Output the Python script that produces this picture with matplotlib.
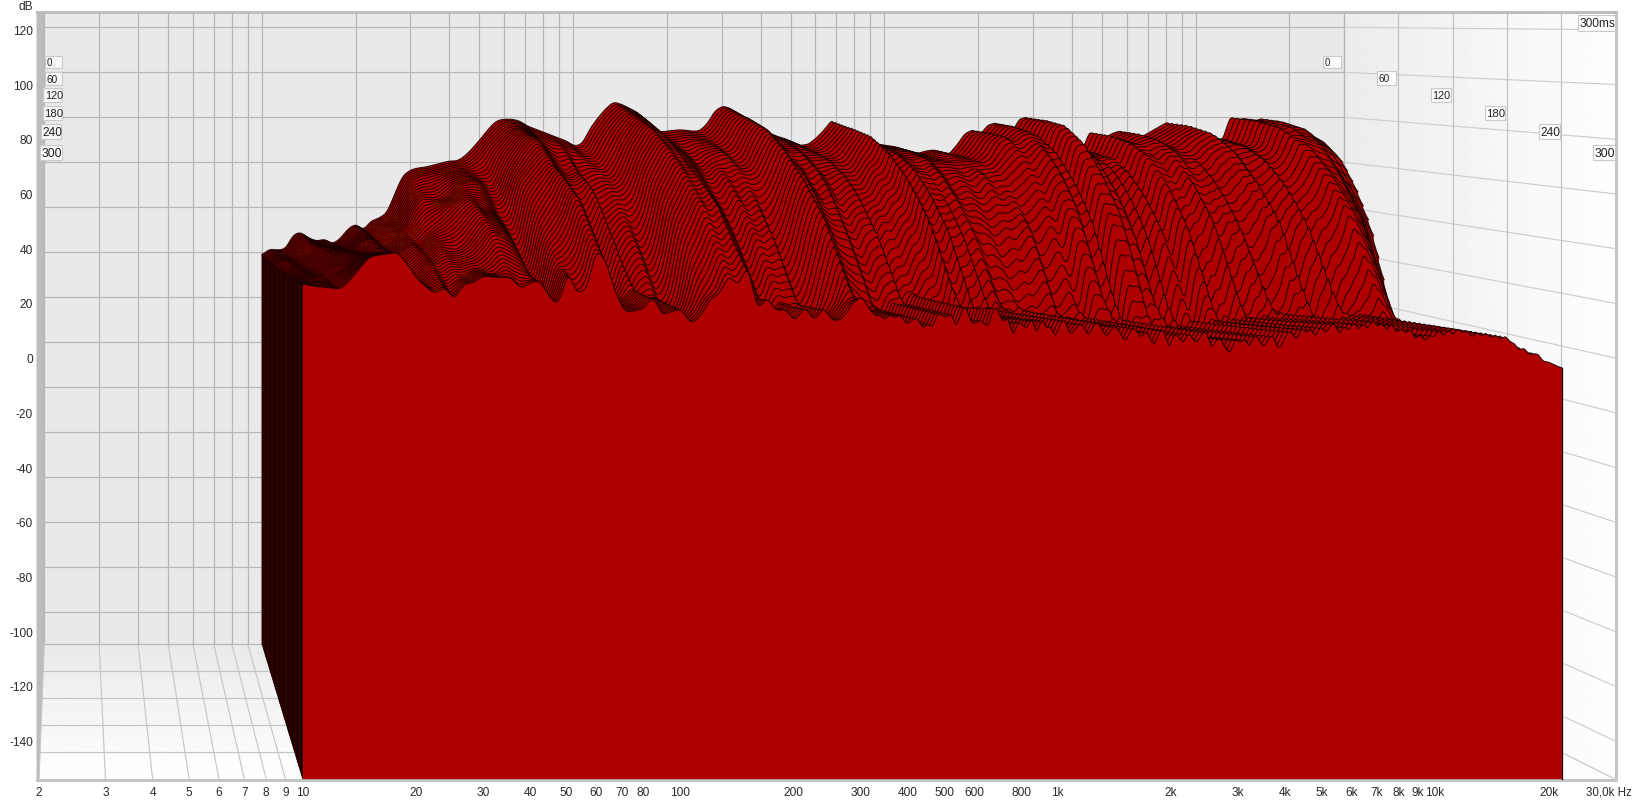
import numpy as np
import matplotlib
matplotlib.use("Agg")
import matplotlib.pyplot as plt
from matplotlib.patches import Polygon, Rectangle

plt.rcParams['font.family'] = ['Liberation Sans', 'DejaVu Sans']

# ---------- values ----------
# 1/12-octave frequency knots from 10 Hz to about 22 kHz
FREQ = [10, 10.6, 11.2, 11.9, 12.6, 13.3, 14.1, 15, 15.9, 16.8, 17.8, 18.9,
        20, 21.2, 22.4, 23.8, 25.2, 26.7, 28.3, 30, 31.7, 33.6, 35.6, 37.8,
        40, 42.4, 44.9, 47.6, 50.4, 53.4, 56.6, 59.9, 63.5, 67.3, 71.3, 75.5,
        80, 84.8, 89.8, 95.1, 100.8, 106.8, 113.1, 119.9, 127, 134.5, 142.5, 151,
        160, 169.5, 179.6, 190.3, 201.6, 213.6, 226.3, 239.7, 254, 269.1, 285.1, 302,
        320, 339, 359.2, 380.5, 403.2, 427.1, 452.5, 479.5, 508, 538.2, 570.2, 604.1,
        640, 678.1, 718.4, 761.1, 806.3, 854.3, 905.1, 958.9, 1016, 1076, 1140, 1208,
        1280, 1356, 1437, 1522, 1613, 1709, 1810, 1918, 2032, 2153, 2281, 2416,
        2560, 2712, 2874, 3044, 3225, 3417, 3620, 3836, 4064, 4305, 4561, 4833,
        5120, 5424, 5747, 6089, 6451, 6834, 7241, 7671, 8127, 8611, 9123, 9665,
        10240, 10850, 11490, 12180, 12900, 13670, 14480, 15340, 16250, 17220, 18250, 19330,
        20480, 21700]

# level of the 0 ms slice, dB
FIRST_SLICE = [18.8, 21.5, 21, 21.5, 27.7, 29, 26.4, 25, 25.9, 23.7, 25.9, 30.4,
               32.6, 29.9, 33.9, 35.2, 37.5, 45.9, 53.9, 56.6, 57.5, 57.9, 58.8, 59.7,
               60.6, 60.6, 62.8, 66.4, 70.4, 74.8, 78.4, 79.2, 79.2, 78.4, 76.1, 74.8,
               73.5, 72.1, 70.8, 69.5, 67.2, 68.1, 74.8, 79.7, 83.7, 86.8, 85.9, 84.1,
               82.4, 79.2, 75.2, 73.5, 73.9, 74.4, 74.4, 73.9, 73.9, 77, 82.8, 85,
               84, 81, 78, 75, 73, 73, 71.5, 70.5, 69, 67.5, 68.1, 70.8,
               74.4, 78.8, 74, 72, 71, 70, 69, 68, 67.5, 67, 66, 65,
               64, 65, 65.5, 64.6, 63.7, 67.7, 72.6, 74.4, 72.5, 76.6, 77.5, 75,
               73, 79.2, 80.1, 76, 73, 70, 68, 66.5, 65.5, 65, 73.5, 72,
               71, 73, 74, 71, 70, 72, 74, 76, 77.9, 74, 72, 73,
               71, 71.5, 69, 70, 80.1, 79, 79.5, 78, 79.5, 78, 76, 75,
               73, 70]

# level of the 300 ms slice, dB
LAST_SLICE = [27.1, 26.3, 26, 25.6, 25.2, 28.2, 32.5, 36.9, 37.7, 38, 38.8, 34.4,
              29.3, 26, 23.4, 26, 21.2, 27.1, 27.4, 30, 29.6, 29.3, 29.6, 25.2,
              27.4, 28.5, 22.7, 19, 31.8, 23.4, 25.2, 39.9, 35.5, 24.1, 16.8, 17.2,
              17.9, 22.7, 15.4, 17.2, 17.9, 12.4, 15, 21.6, 23.4, 30.3, 26.3, 34.4,
              17.2, 22.3, 17.2, 17.9, 13.2, 19, 13.5, 18.6, 13.5, 14.3, 19.7, 22.7,
              17.2, 15, 15.7, 14.3, 15, 12.4, 12.1, 14.6, 16.5, 13.5, 17.6, 13.2,
              11.3, 17.6, 15, 11.3, 11.3, 13.5, 12.1, 11, 11, 11.3, 10.6, 10.6,
              11.3, 11.7, 9.1, 8.8, 9.5, 8.4, 7.3, 9.1, 6.9, 6.9, 8, 8.4,
              6.9, 5.1, 4.8, 6.2, 6.6, 6.9, 6.2, 6.9, 7.7, 9.1, 9.9, 10.2,
              10.6, 11, 11.3, 11.7, 12.1, 12.4, 12.1, 11.3, 10.2, 9.1, 8, 7.7,
              8.8, 9.9, 10.2, 9.5, 8.8, 8.4, 7.7, 7.3, 4.4, 2.9, 1.5, -0.4,
              -2.2, -3.7]

# fine teeth and notches of the settled slices between 320 Hz and 22 kHz,
# dB at half-knot steps, estimated from the front edge
COMB_DB = [0, -1, 1, -2, 1, -1, 2, -1, -3, 1, 2, -2, 1, -3, 2, 0,
           -2, 2, -3, 1, 2, -2, -1, 2, 1, -3, 2, 0, -2, 2, -4, 2,
           1, -2, 2, -5, 3, -1, 1, -4, 2, 3, -3, -1, 2, 1, -3, 1,
           2, -2, -4, 1, 2, -1, -3, 2, 1, -2, 2, -1, -3, 2, 1, -5,
           2, 1, -2, 2, -1, -3, 1, 2, -4, 1, 2, -2, -3, 2, -1, 1,
           -3, 2, 0, -3, 1, 2, -4, -2, 2, 1, -3, 2, -1, 1, -3, 2,
           -2, 1, 2, -3, 1, -2, 2, -2, 1, -2, 2, -1, 1, -2, 2, -2,
           1, -1, 2, -2, 1, -2, 1, -1, 2, -2, 1, -2, 1, -1, 1, -2,
           1, -1, 1, -1, 1, -1, 1, 0, 1, -1, 1, -1, 0, 1, -1, 0,
           0, 0, 0]

# time at which each frequency has fallen to its floor, ms
DECAY_MS = [300, 300, 300, 300, 300, 300, 300, 300, 300, 300, 300, 300,
            300, 300, 300, 300, 290, 270, 260, 250, 255, 275, 295, 300,
            285, 265, 240, 225, 260, 295, 300, 300, 300, 285, 245, 225,
            210, 240, 200, 220, 225, 220, 235, 280, 290, 300, 300, 300,
            260, 240, 250, 240, 225, 240, 250, 240, 225, 240, 260, 285,
            270, 240, 230, 220, 220, 210, 200, 200, 210, 200, 190, 215,
            225, 235, 215, 205, 190, 200, 185, 200, 180, 190, 170, 180,
            165, 175, 170, 185, 175, 165, 180, 165, 185, 190, 170, 175,
            160, 180, 185, 170, 175, 155, 165, 150, 160, 155, 175, 165,
            170, 180, 165, 175, 185, 165, 170, 185, 190, 170, 160, 175,
            180, 160, 170, 180, 190, 185, 178, 168, 155, 145, 135, 125,
            118, 110]

# level just after the decay, dB below the last slice
FLOOR_DROP = [0] * 48 + [2] * 24 + [4] * 24 + [6] * 24 + [3] * 14

# how far each frequency has come down on its way to the floor
DECAY_PHASE = [0, 0.15, 0.3, 0.45, 0.6, 0.75, 0.9, 1]
LEFT_HIGH = [1, 0.995, 0.97, 0.89, 0.74, 0.54, 0.22, 0]
LEFT_LOW = [1, 0.9, 0.78, 0.64, 0.48, 0.3, 0.12, 0]

# estimated ripple of the early, middle and late part of the decay, dB
RIPPLE_EARLY = [0, 1, 1, 0, -1, 0, 1, 1, 0, 0, 1, 1,
                0, -1, -1, 1, 2, 2, 0, -3, -4, -2, 1, 2,
                2, 1, -2, -4, -2, 1, 3, 3, 2, 1, -1, -3,
                -4, -2, -3, -1, 1, 0, -2, -1, 1, 2, 1, 0,
                -2, -1, 1, 0, -2, -1, 1, 2, 0, -2, -1, 1,
                2, 0, -2, -1, 1, 1, -1, -2, 0, 1, -1, -2,
                1, 2, 0, -2, -1, 1, -1, -2, 0, 1, -1, 0,
                1, -1, -2, 0, 1, -1, 0, 2, 1, -1, 0, 1,
                -1, 1, 2, 0, -1, 1, -1, -2, 0, 1, -1, 0,
                1, -1, 0, 1, -1, -1, 1, 0, -1, 1, 0, -1,
                1, -1, 0, 1, 0, -1, 1, 0, -1, 1, 0, -1,
                0, 0]
RIPPLE_MID = [0, 0, 1, 0, 0, -1, 0, 1, 1, 0, -1, -1,
              -1, 0, 1, 2, 1, -2, -4, -3, 0, 2, 3, 1,
              -1, -3, -5, -2, 1, 3, 4, 2, 0, -3, -4, -1,
              1, 3, -2, -3, 1, 2, -2, 0, 2, 3, 1, -1,
              -3, 1, 2, -2, 0, 2, -3, 1, 3, -1, -2, 2,
              1, -3, 2, -1, -2, 2, 0, -3, 2, 1, -2, 2,
              -1, 3, -2, 1, -3, 2, 0, -2, 3, -1, -3, 2,
              1, -2, 3, -3, 1, 2, -3, 2, -1, 3, -2, 1,
              -3, 2, 3, -2, 1, -3, 2, -1, 3, -2, -1, 3,
              -2, 1, 3, -3, 1, -2, 3, 0, -3, 2, 1, -3,
              3, -1, -2, 3, -2, 1, -3, 2, 1, -2, 3, -2,
              1, 0]
RIPPLE_LATE = [0, 0, 1, 1, 0, -1, -1, 0, 1, 1, 0, -1,
               -2, -3, -1, 2, 3, 1, -3, -5, -3, 0, 3, 4,
               2, -1, -4, -6, -3, 1, 4, 5, 3, -1, -5, -4,
               -2, 2, -3, -1, 2, -2, -3, 1, 3, 4, 2, 3,
               -3, 0, 2, -1, -3, 1, -2, 2, -3, -1, 2, 3,
               0, -2, 1, -2, 1, -1, -3, 0, 2, -2, 2, -2,
               -2, 3, 1, -3, -1, 2, -1, -2, 1, -1, 2, 0,
               -2, 1, -2, 1, 2, -1, -2, 1, 2, -1, 1, 2,
               -2, 1, -1, 2, 0, -2, 1, -1, 2, -1, 1, -2,
               1, 2, -1, 1, -2, 0, 2, -1, 1, -2, 1, -1,
               2, -1, 1, -2, 1, 2, -1, 1, -1, 1, -1, 1,
               0, 0]

TIME_STEP_MS = 6
TIME_END_MS = 300
DB_GRID = [120, 100, 80, 60, 40, 20, 0, -20, -40, -60, -80, -100, -120, -140]
DB_LABELS = [str(v) for v in DB_GRID]
FREQ_GRID = [2, 3, 4, 5, 6, 7, 8, 9, 10, 20, 30, 40, 50, 60, 70, 80, 90, 100, 200, 300, 400,
             500, 600, 700, 800, 900, 1000, 2000, 3000, 4000, 5000, 6000, 7000, 8000, 9000,
             10000, 20000, 30000]
FREQ_TICKS = [2, 3, 4, 5, 6, 7, 8, 9, 10, 20, 30, 40, 50, 60, 70, 80, 100, 200, 300, 400, 500,
              600, 800, 1000, 2000, 3000, 4000, 5000, 6000, 7000, 8000, 9000, 10000, 20000]
FREQ_TICK_LABELS = ['2', '3', '4', '5', '6', '7', '8', '9', '10', '20', '30', '40', '50', '60',
                    '70', '80', '100', '200', '300', '400', '500', '600', '800', '1k', '2k',
                    '3k', '4k', '5k', '6k', '7k', '8k', '9k', '10k', '20k']
TIME_GRID = [0, 60, 120, 180, 240, 300]

# ---------- projection of (frequency, dB, time) onto the picture ----------
W, H = 1634, 803
DB_FLOOR = -154
BACK_X0, BACK_XD = 44.3, 311.3
FRONT_X0, FRONT_XD = 39.0, 377.4
BACK_Y0, BACK_YD = 298.3, 2.25
FRONT_Y0, FRONT_YD = 359.0, 2.735
TOP = 15


def px(f, t):
    u = np.asarray(t, float) / TIME_END_MS
    lf = np.log10(np.asarray(f, float) / 2)
    return (BACK_X0 + BACK_XD * lf) * (1 - u) + (FRONT_X0 + FRONT_XD * lf) * u


def py(db, t):
    u = np.asarray(t, float) / TIME_END_MS
    db = np.asarray(db, float)
    return (BACK_Y0 - BACK_YD * db) * (1 - u) + (FRONT_Y0 - FRONT_YD * db) * u


fig = plt.figure(figsize=(W / 100, H / 100), dpi=100, facecolor='white')
ax = fig.add_axes([0, 0, 1, 1])
ax.axis('off')

# ---------- walls ----------
XMAX = 30000
xb_l, xb_r = float(px(2, 0)), float(px(XMAX, 0))
xf_l, xf_r = float(px(2, 300)), float(px(XMAX, 300))
yb_f, yf_f = float(py(DB_FLOOR, 0)), float(py(DB_FLOOR, 300))

ax.add_patch(Rectangle((xb_l, TOP), xb_r - xb_l, yb_f - TOP, fc='#e9e9e9', ec='none', zorder=0))
side = Polygon([(xb_r, TOP), (xf_r, TOP), (xf_r, yf_f), (xb_r, yb_f)], fc='none', ec='none')
ax.add_patch(side)
im = ax.imshow(np.linspace(0.925, 0.995, 128).reshape(1, -1), cmap='gray', vmin=0, vmax=1,
               extent=[xb_r, xf_r, yf_f, TOP], aspect='auto', zorder=0.1)
im.set_clip_path(side)
floor_poly = Polygon([(xb_l, yb_f), (xb_r, yb_f), (xf_r, yf_f), (xf_l, yf_f)], fc='none', ec='none')
ax.add_patch(floor_poly)
im2 = ax.imshow(np.linspace(0.915, 1.0, 128).reshape(-1, 1), cmap='gray', vmin=0, vmax=1,
                extent=[xb_l - 10, xf_r, yf_f, yb_f], aspect='auto', zorder=0.1)
im2.set_clip_path(floor_poly)

# grey frame and sliver of the left wall and ceiling
ax.add_patch(Polygon([(36.5, 12), (xb_l, TOP), (xb_l, yb_f), (xf_l, yf_f), (36.5, yf_f)],
                     fc='#bcbcbc', ec='none', zorder=0.2))
ax.add_patch(Rectangle((36.5, 11.5), xf_r + 2.5 - 36.5, TOP - 11.5, fc='#bdbdbd', ec='none', zorder=0.2))
ax.add_patch(Rectangle((36.5, yf_f), xf_r + 2.5 - 36.5, 2.5, fc='#c4c4c4', ec='none', zorder=0.2))
ax.add_patch(Rectangle((xf_r, TOP), 2.5, yf_f - TOP, fc='#c4c4c4', ec='none', zorder=0.2))

# ---------- grid ----------
GC, GS = '#b5b5b5', '#cdcdcd'
LW = 0.85
for db in DB_GRID:
    y = float(py(db, 0))
    ax.plot([xb_l, xb_r], [y, y], color=GC, lw=LW, zorder=0.5)
    ax.plot([xb_r, xf_r], [y, float(py(db, 300))], color=GS, lw=LW, zorder=0.5)
for f in FREQ_GRID:
    x = float(px(f, 0))
    ax.plot([x, x], [TOP, yb_f], color=GC, lw=LW, zorder=0.5)
    ax.plot([x, float(px(f, 300))], [yb_f, yf_f], color='#c6c6c6', lw=LW, zorder=0.5)
for t in TIME_GRID[:-1]:
    y = float(py(DB_FLOOR, t))
    ax.plot([float(px(2, t)), float(px(XMAX, t))], [y, y], color=GC if t == 0 else '#c4c4c4', lw=LW, zorder=0.5)
    x = float(px(XMAX, t))
    ax.plot([x, x], [TOP, y], color=GC if t == 0 else '#c0c0c0', lw=LW, zorder=0.5)

# ---------- waterfall, back slice first ----------
first = np.array(FIRST_SLICE, float)
last = np.array(LAST_SLICE, float)
decay = np.array(DECAY_MS, float)
drop = np.array(FLOOR_DROP, float)
rip_e = np.array(RIPPLE_EARLY, float)
rip_m = np.array(RIPPLE_MID, float)
rip_l = np.array(RIPPLE_LATE, float)
knots = np.arange(len(FREQ))
fine_k = np.arange(0, len(FREQ) - 1 + 1e-6, 0.25)
fine_f = 10 ** np.interp(fine_k, knots, np.log10(FREQ))
kern_wide = np.array([1, 2, 3, 2, 1], float) / 9
kern_thin = np.array([0, 1, 2, 1, 0], float) / 4
wide_w = np.clip((70 - fine_k) / 20, 0, 1)
dome_w = np.interp(knots, [40, 90], [0.2, 1.0])
rip_scale = np.interp(knots, [60, 90], [1.0, 0.6])
comb_k = 60 + 0.5 * np.arange(len(COMB_DB))
comb = np.interp(fine_k, comb_k, COMB_DB, left=0, right=0)


def slice_db(t):
    phase = np.clip(t / decay, 0, 1)
    left = dome_w * np.interp(phase, DECAY_PHASE, LEFT_HIGH) + (1 - dome_w) * np.interp(phase, DECAY_PHASE, LEFT_LOW)
    floor = last - drop * np.clip((TIME_END_MS - t) / np.maximum(TIME_END_MS - decay, 1), 0, 1)
    vals = floor + (first - floor) * left
    vals = vals + rip_scale * (rip_e * np.interp(phase, [0.12, 0.32, 0.5], [0, 1, 0])
                               + rip_m * np.interp(phase, [0.32, 0.52, 0.72], [0, 1, 0])
                               + rip_l * np.interp(phase, [0.52, 0.76, 0.98], [0, 1, 0]))
    f = np.interp(fine_k, knots, vals) + comb * (1 - np.interp(fine_k, knots, left) ** 2)
    pad = np.r_[[f[0]] * 2, f, [f[-1]] * 2]
    return wide_w * np.convolve(pad, kern_wide, mode='valid') + (1 - wide_w) * np.convolve(pad, kern_thin, mode='valid')


times = np.arange(0, TIME_END_MS + 1, TIME_STEP_MS)
prev = None
for i, t in enumerate(times):
    db = slice_db(t)
    xs = px(fine_f, t)
    ys = py(db, t)
    yb = float(py(DB_FLOOR, t))
    z = 1 + i
    if prev is not None:
        ax.add_patch(Polygon([(prev[0], prev[1]), (xs[0], ys[0]), (xs[0], yb), (prev[0], prev[2])],
                             fc='#1c0000', ec='#0c0000', lw=0.3, zorder=z))
    ax.add_patch(Polygon(np.r_[np.c_[xs, ys], [[xs[-1], yb], [xs[0], yb]]], fc='#ae0000', ec='none', zorder=z))
    ax.plot(xs, ys, color='#140000', lw=0.72, alpha=0.9, zorder=z, solid_joinstyle='round')
    prev = (xs[0], ys[0], yb)
ax.plot([xs[-1], xs[-1]], [ys[-1], yb], color='#100000', lw=0.9, zorder=200)

# ---------- text ----------
TC = '#2a2a2a'
FS = 8.6
zt = 300
ax.text(33, 6.5, 'dB', ha='right', va='center', fontsize=FS, color=TC, zorder=zt)
for db, lab in zip(DB_GRID, DB_LABELS):
    ax.text(33, float(py(db, 300)) + 1.2, lab, ha='right', va='center', fontsize=FS, color=TC, zorder=zt)
for f, lab in zip(FREQ_TICKS, FREQ_TICK_LABELS):
    ax.text(float(px(f, 300)), 793, lab, ha='center', va='center', fontsize=FS, color=TC, zorder=zt)
ax.text(1632, 793, '30,0k Hz', ha='right', va='center', fontsize=8.3, color=TC, zorder=zt)


def box(x0, x1, y0, y1, s, fs, bg='#f6f6f6'):
    ax.add_patch(Rectangle((x0, y0), x1 - x0, y1 - y0, fc=bg, ec='#c9c9c9', lw=0.8, zorder=zt))
    ax.text(x0 + 1.5, (y0 + y1) / 2 + 0.3, s, ha='left', va='center', fontsize=fs, color='#222222', zorder=zt + 1)


LBL_L = [(45, 62, 57, 69), (45, 62, 73, 86), (43.5, 62, 89, 103), (43, 62, 107, 121), (41, 61, 125, 140), (40, 62, 146, 161)]
LBL_R = [(1323, 1341, 57, 69), (1377, 1396, 72, 86), (1431, 1451, 89, 103), (1485, 1505, 107, 121),
         (1539, 1560, 125, 140), (1593, 1615, 146, 161)]
LBL_FS = [7.0, 7.2, 7.8, 8.2, 8.6, 8.8]
for t, a, b, fs in zip(TIME_GRID, LBL_L, LBL_R, LBL_FS):
    box(*a, str(t), fs)
    box(*b, str(t), fs, bg='#fbfbfb')
box(1578, 1615.5, 15.5, 31.5, '300ms', 8.6, bg='#fdfdfd')

ax.set_xlim(0, W)
ax.set_ylim(H, 0)
fig.savefig('out.png', dpi=100, facecolor='white')
